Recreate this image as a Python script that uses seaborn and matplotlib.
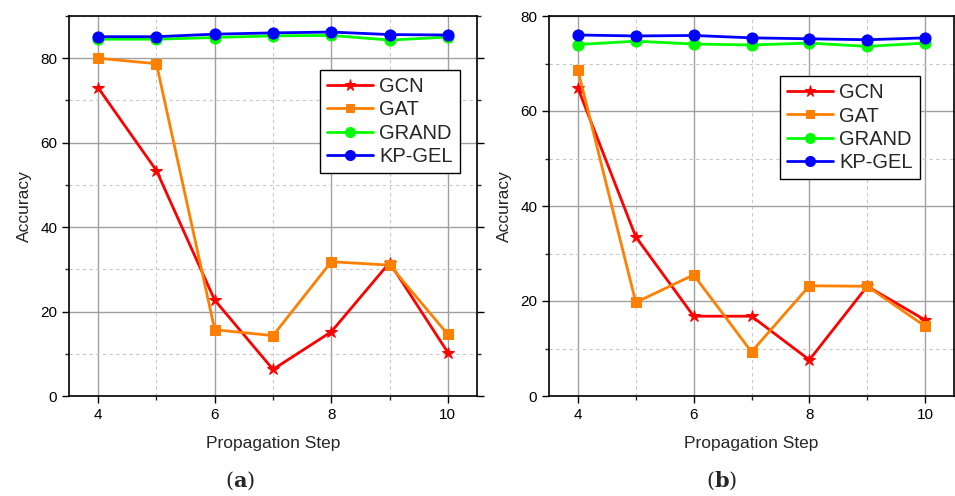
import matplotlib
matplotlib.use("Agg")
import matplotlib.pyplot as plt
import seaborn as sns
import pandas as pd
from matplotlib.ticker import MultipleLocator

steps = [4, 5, 6, 7, 8, 9, 10]
series_names = ["GCN", "GAT", "GRAND", "KP-GEL"]

a_gcn = [73.0, 53.4, 22.7, 6.3, 15.2, 31.6, 10.3]
a_gat = [80.0, 78.7, 15.7, 14.3, 31.8, 31.0, 14.6]
a_grand = [84.5, 84.5, 84.9, 85.3, 85.4, 84.3, 85.0]
a_kpgel = [85.1, 85.1, 85.7, 86.0, 86.2, 85.6, 85.5]

b_gcn = [64.8, 33.5, 16.8, 16.8, 7.6, 23.1, 16.0]
b_gat = [68.6, 19.7, 25.5, 9.3, 23.2, 23.1, 14.7]
b_grand = [74.0, 74.7, 74.1, 73.9, 74.3, 73.6, 74.3]
b_kpgel = [76.0, 75.8, 75.9, 75.4, 75.2, 75.0, 75.4]

colors = {"GCN": "#ff0000", "GAT": "#ff8000", "GRAND": "#00ff00", "KP-GEL": "#0000ff"}
markers = {"GCN": "*", "GAT": "s", "GRAND": "o", "KP-GEL": "o"}
msizes = {"GCN": 9, "GAT": 7, "GRAND": 8, "KP-GEL": 8}

sns.set_style("white")
plt.rcParams['font.family'] = ['Liberation Sans', 'DejaVu Sans']
plt.rcParams['mathtext.fontset'] = 'dejavuserif'

fig = plt.figure(figsize=(9.55, 4.96), dpi=100)
ax1 = fig.add_axes([69/955, 1-396/496, 408/955, 380/496])
ax2 = fig.add_axes([549/955, 1-396/496, 405/955, 380/496])

def draw(ax, data, ymax, legend_anchor):
    for name, vals in zip(series_names, data):
        df = pd.DataFrame({"step": steps, "acc": vals})
        sns.lineplot(data=df, x="step", y="acc", ax=ax, color=colors[name],
                     marker=markers[name], markersize=msizes[name],
                     markeredgecolor=colors[name], linewidth=2, label=name,
                     zorder=3)
    ax.set_xlim(3.5, 10.5)
    ax.set_ylim(0, ymax)
    ax.xaxis.set_major_locator(MultipleLocator(2))
    ax.xaxis.set_minor_locator(MultipleLocator(1))
    ax.yaxis.set_major_locator(MultipleLocator(20))
    ax.yaxis.set_minor_locator(MultipleLocator(10))
    ax.grid(True, which="major", color="#a0a0a0", linewidth=1.0, linestyle="-")
    ax.grid(True, which="minor", color="#c8c8c8", linewidth=0.8, linestyle=(0, (3, 3)))
    ax.set_axisbelow(True)
    ax.tick_params(axis="both", which="major", direction="out", length=5, width=1,
                   labelsize=11, colors="black", left=True, bottom=True)
    ax.tick_params(axis="both", which="minor", direction="out", length=3, width=1,
                   left=True, bottom=True)
    ax.tick_params(axis="y", which="both", right=True)
    for sp in ax.spines.values():
        sp.set_color("black")
        sp.set_linewidth(1.2)
    ax.set_xlabel("Propagation Step", fontsize=12.5, labelpad=10)
    ax.set_ylabel("Accuracy", fontsize=12.5, labelpad=6)
    leg = ax.legend(loc="upper right", bbox_to_anchor=legend_anchor, borderaxespad=0,
                    fancybox=False, edgecolor="black", framealpha=1, fontsize=14.5,
                    handlelength=2.3, labelspacing=0.22, handletextpad=0.3,
                    borderpad=0.35, markerscale=0.9)
    leg.get_frame().set_linewidth(1.0)

draw(ax1, [a_gcn, a_gat, a_grand, a_kpgel], 90, (0.958, 0.858))
draw(ax2, [b_gcn, b_gat, b_grand, b_kpgel], 80, (0.916, 0.842))

fig.text(240/955, 1-481/496, r"($\mathbf{a}$)", ha="center", va="center", fontsize=15,
         family="DejaVu Serif")
fig.text(722/955, 1-481/496, r"($\mathbf{b}$)", ha="center", va="center", fontsize=15,
         family="DejaVu Serif")

fig.savefig("out.png", dpi=100)
